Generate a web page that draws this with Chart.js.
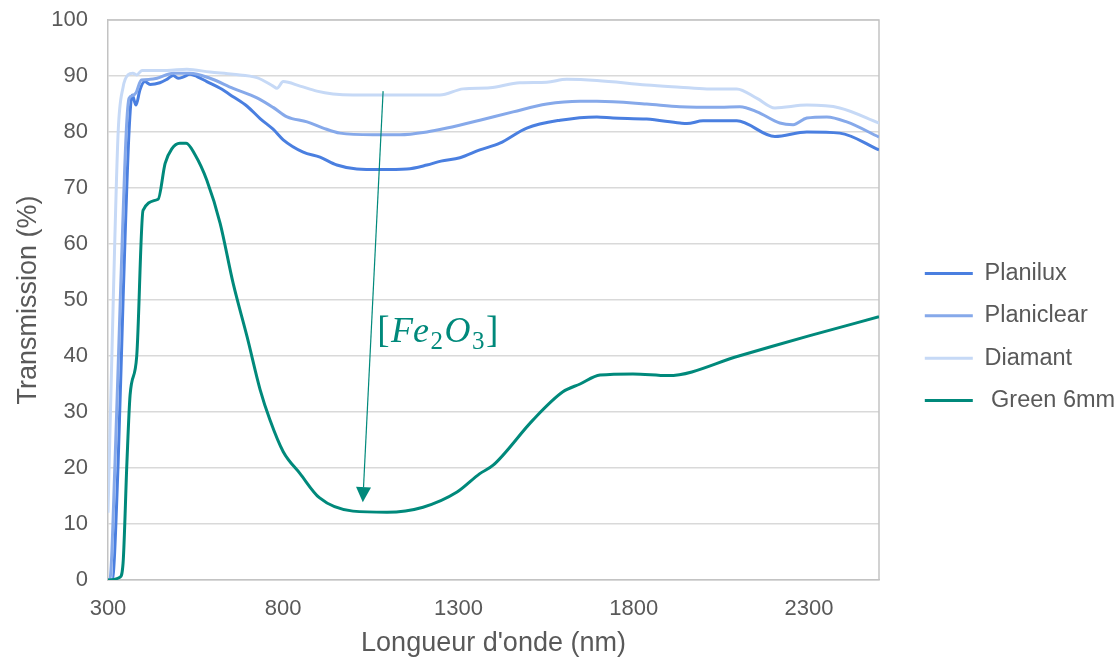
<!DOCTYPE html>
<html>
<head>
<meta charset="utf-8">
<script src="https://cdn.jsdelivr.net/npm/chart.js@4.4.1/dist/chart.umd.min.js"></script>
<style>
  html, body { margin: 0; padding: 0; background: #fff; }
  #wrap { width: 1120px; height: 660px; }
</style>
</head>
<body>
<div id="wrap"><canvas id="myCanvas" width="1120" height="660"></canvas></div>
<script>
// wavelength (nm) and transmission (%)
const planiluxNm = [300, 312, 329, 343, 360, 369, 380, 391, 405, 420, 448, 468, 486, 500, 514, 534, 554, 582, 620, 657, 697, 734, 771, 800, 857, 905, 953, 1010, 1076, 1153, 1210, 1250, 1304, 1361, 1418, 1495, 1590, 1695, 1741, 1837, 1932, 1952, 1998, 2094, 2203, 2294, 2388, 2500];
const planiluxT  = [0, 0, 21, 50, 80, 86.6, 84.8, 87.5, 89, 88.5, 88.8, 89.4, 90.1, 89.6, 89.8, 90.3, 89.9, 89.0, 87.8, 86.3, 84.6, 82.4, 80.5, 78.6, 76.4, 75.5, 74.1, 73.4, 73.3, 73.4, 74.1, 74.8, 75.4, 76.8, 78.0, 80.7, 82.1, 82.7, 82.5, 82.3, 81.6, 81.5, 82.0, 82.0, 79.2, 80.0, 79.8, 76.8];

const planiclearNm = [300, 305, 320, 335, 352, 360, 370, 380, 395, 420, 440, 486, 534, 591, 657, 725, 771, 811, 868, 914, 962, 1056, 1133, 1210, 1267, 1361, 1456, 1552, 1647, 1695, 1837, 1932, 2046, 2103, 2152, 2217, 2255, 2294, 2351, 2408, 2500];
const planiclearT  = [0, 0, 21, 50, 80, 86, 86.5, 87, 89.3, 89.4, 89.6, 90.5, 90.5, 89.6, 87.8, 86.1, 84.4, 82.7, 81.8, 80.7, 79.8, 79.5, 79.5, 80.0, 80.7, 82.1, 83.6, 85.0, 85.5, 85.5, 85.0, 84.5, 84.4, 84.5, 83.6, 81.6, 81.3, 82.5, 82.7, 81.8, 79.1];

const diamantNm = [300, 315, 329, 343, 357, 371, 382, 397, 468, 525, 591, 657, 725, 771, 782, 800, 848, 896, 942, 999, 1085, 1247, 1313, 1390, 1475, 1552, 1609, 1695, 1837, 1932, 2009, 2094, 2152, 2203, 2294, 2388, 2500];
const diamantT  = [12, 50, 80, 88, 90.2, 90.5, 90.2, 91, 91, 91.2, 90.7, 90.3, 89.7, 88.2, 87.8, 89.0, 88.2, 87.3, 86.8, 86.6, 86.6, 86.6, 87.7, 87.9, 88.8, 88.9, 89.4, 89.2, 88.4, 88.0, 87.7, 87.7, 86.0, 84.3, 84.8, 84.3, 81.6];

const greenNm = [300, 334, 343, 354, 363, 382, 400, 443, 463, 482, 505, 523, 548, 582, 620, 657, 697, 734, 762, 800, 848, 903, 999, 1096, 1199, 1296, 1361, 1399, 1513, 1598, 1647, 1704, 1798, 1898, 2100, 2300, 2500];
const greenT  = [0, 0.5, 3, 21, 33, 40, 66, 68, 74.4, 77, 78, 78, 76, 71.4, 63.7, 53, 43.4, 34, 28.6, 22.9, 19, 14.7, 12.3, 12.1, 13, 15.7, 19, 20.5, 28.6, 33.6, 35, 36.6, 36.8, 36.5, 40.0, 43.6, 47];

const seriesNames = ['Planilux', 'Planiclear', 'Diamant', ' Green 6mm'];
const seriesColors = ['#4a7fe0', '#86a9ea', '#c6d9f6', '#00897b'];
const xTicks = [300, 800, 1300, 1800, 2300];

// arrow + label of the annotation, in data units
const arrowFrom = [1085, 87.3];
const arrowTo = [1027, 13.9];
const labelAt = [1068, 44.6];

function pts(xs, ys) {
    return xs.map((x, i) => ({ x: x, y: ys[i] }));
}

const textColor = '#595959';
Chart.defaults.font.family = '"Liberation Sans", Arial, sans-serif';
Chart.defaults.color = textColor;

// box round the plot and the Fe2O3 arrow
const frame = {
    id: 'frame',
    beforeDatasetsDraw(chart) {
        const { ctx, chartArea: a } = chart;
        ctx.save();
        ctx.strokeStyle = '#c3c3c3';
        ctx.lineWidth = 1.5;
        ctx.beginPath();
        ctx.moveTo(a.left, a.top);
        ctx.lineTo(a.right, a.top);
        ctx.lineTo(a.right, a.bottom);
        ctx.stroke();
        ctx.restore();
    },
    afterDatasetsDraw(chart) {
        const { ctx, scales: { x, y } } = chart;
        const x0 = x.getPixelForValue(arrowFrom[0]), y0 = y.getPixelForValue(arrowFrom[1]);
        const x1 = x.getPixelForValue(arrowTo[0]), y1 = y.getPixelForValue(arrowTo[1]);
        const ang = Math.atan2(y1 - y0, x1 - x0);
        const head = 15, half = 7.5;
        ctx.save();
        ctx.strokeStyle = '#00897b';
        ctx.fillStyle = '#00897b';
        ctx.lineWidth = 1.2;
        ctx.beginPath();
        ctx.moveTo(x0, y0);
        ctx.lineTo(x1 - head * Math.cos(ang), y1 - head * Math.sin(ang));
        ctx.stroke();
        ctx.beginPath();
        ctx.moveTo(x1, y1);
        ctx.lineTo(x1 - head * Math.cos(ang) + half * Math.sin(ang), y1 - head * Math.sin(ang) - half * Math.cos(ang));
        ctx.lineTo(x1 - head * Math.cos(ang) - half * Math.sin(ang), y1 - head * Math.sin(ang) + half * Math.cos(ang));
        ctx.closePath();
        ctx.fill();

        // [Fe2O3] label
        let tx = x.getPixelForValue(labelAt[0]);
        const ty = y.getPixelForValue(labelAt[1]) + 12;
        const parts = [
            ['[', 'normal', 37, 0],
            ['Fe', 'italic', 36, 0],
            ['2', 'normal', 25, 7],
            ['O', 'italic', 36, 0],
            ['3', 'normal', 25, 7],
            [']', 'normal', 37, 0]
        ];
        ctx.textBaseline = 'alphabetic';
        ctx.textAlign = 'left';
        parts.forEach(p => {
            ctx.font = p[1] + ' ' + p[2] + 'px "Liberation Serif", "DejaVu Serif", serif';
            ctx.fillText(p[0], tx, ty + p[3]);
            tx += ctx.measureText(p[0]).width + 1.5;
        });
        ctx.restore();
    }
};

// fixed legend width, then slide the legend to where it sits in the reference
const legendPlace = {
    id: 'legendPlace',
    afterInit(chart) {
        const lg = chart.legend;
        const fit = lg.fit;
        lg.fit = function () {
            fit.call(this);
            this.width = 241;
        };
    },
    afterLayout(chart) {
        const lg = chart.legend;
        const w = lg.right - lg.left;
        const h = lg.bottom - lg.top;
        lg.left = 906;
        lg.right = lg.left + w;
        lg.top = lg.top - 3;
        lg.bottom = lg.top + h;
    }
};

document.addEventListener('DOMContentLoaded', (event) => {
    const ctx = document.getElementById('myCanvas').getContext('2d');

    const series = [
        pts(planiluxNm, planiluxT),
        pts(planiclearNm, planiclearT),
        pts(diamantNm, diamantT),
        pts(greenNm, greenT)
    ];

    const data = {
        datasets: series.map((s, i) => ({
            label: seriesNames[i],
            data: s,
            borderColor: seriesColors[i],
            backgroundColor: seriesColors[i],
            borderWidth: 3,
            pointRadius: 0,
            fill: false,
            cubicInterpolationMode: 'monotone',
            order: 4 - i
        }))
    };

    const config = {
        type: 'line',
        data: data,
        options: {
            responsive: false,
            animation: false,
            layout: { padding: { top: 20, left: 0, right: 0, bottom: 0 } },
            plugins: {
                legend: {
                    position: 'right',
                    labels: {
                        usePointStyle: true,
                        pointStyle: 'line',
                        pointStyleWidth: 48,
                        padding: 18.8,
                        color: textColor,
                        font: { size: 23.5 },
                        sort: (a, b) => a.datasetIndex - b.datasetIndex
                    }
                },
                tooltip: { enabled: false }
            },
            scales: {
                x: {
                    type: 'linear',
                    min: 300,
                    max: 2500,
                    afterBuildTicks: (s) => { s.ticks = xTicks.map(v => ({ value: v })); },
                    afterFit: (s) => { s.height = 80; },
                    grid: { display: false, drawTicks: false },
                    border: { color: '#c3c3c3', width: 1.5 },
                    ticks: { padding: 16, font: { size: 22 }, color: textColor, callback: (v) => String(v) },
                    title: {
                        display: true,
                        text: "Longueur d'onde (nm)",
                        font: { size: 27 },
                        color: textColor,
                        padding: { top: 0, bottom: 0 }
                    }
                },
                y: {
                    min: 0,
                    max: 100,
                    afterFit: (s) => { s.width = 108; s.paddingTop = 0; s.paddingBottom = 0; },
                    grid: { color: '#d9d9d9', lineWidth: 1.5, drawTicks: false },
                    border: { color: '#c3c3c3', width: 1.5 },
                    ticks: { stepSize: 10, padding: 20, font: { size: 22 }, color: textColor },
                    title: {
                        display: true,
                        text: 'Transmission (%)',
                        font: { size: 27 },
                        color: textColor,
                        padding: { top: 12, bottom: 0 }
                    }
                }
            }
        },
        plugins: [frame, legendPlace]
    };

    const myChart = new Chart(ctx, config);
});
</script>
</body>
</html>
